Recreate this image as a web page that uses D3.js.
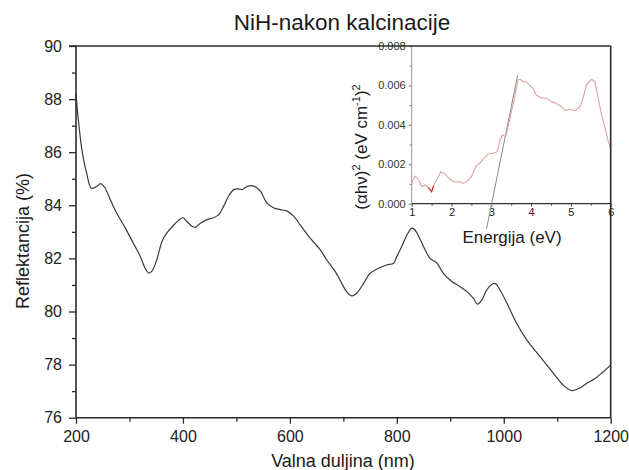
<!DOCTYPE html>
<html>
<head>
<meta charset="utf-8">
<script src="https://cdn.jsdelivr.net/npm/d3@7"></script>
<style>
  html, body { margin: 0; padding: 0; background: #fff; }
  svg { display: block; font-family: "Liberation Sans", Arial, sans-serif; }
</style>
</head>
<body>
<svg id="chart" width="629" height="470"></svg>
<script>
// Reflectance spectrum (main panel)
const wavelength = [200,204,211,220,229,239,246,254,264,276,292,307,320,329,336,342,351,361,370,382,392,400,407,417,423,432,445,457,467,476,486,495,504,511,517,526,536,545,557,570,582,595,607,620,638,657,669,685,697,706,716,725,738,750,766,781,794,800,809,819,828,834,844,853,862,875,887,903,918,931,943,951,959,968,978,984,993,1006,1024,1043,1068,1093,1111,1127,1140,1155,1171,1186,1200];
const reflectance = [88.2,87.3,86.1,85.2,84.64,84.72,84.82,84.66,84.22,83.71,83.15,82.58,82.08,81.64,81.45,81.52,81.95,82.65,82.96,83.24,83.44,83.53,83.4,83.21,83.17,83.31,83.46,83.53,83.65,83.96,84.37,84.59,84.62,84.59,84.68,84.74,84.69,84.53,84.09,83.9,83.84,83.78,83.59,83.24,82.76,82.32,81.94,81.5,81.06,80.75,80.59,80.69,81.06,81.44,81.63,81.75,81.82,82.07,82.44,82.88,83.14,83.07,82.7,82.32,82.0,81.82,81.44,81.13,80.94,80.75,80.5,80.28,80.43,80.81,81.03,81.06,80.81,80.31,79.56,78.93,78.3,77.67,77.23,77.02,77.1,77.29,77.48,77.73,77.98];

// Tauc plot (inset)
const energy = [1.0,1.08,1.17,1.25,1.33,1.42,1.5,1.55,1.65,1.73,1.84,1.96,2.09,2.21,2.3,2.38,2.5,2.61,2.71,2.84,2.92,3.05,3.15,3.21,3.28,3.36,3.46,3.59,3.67,3.73,3.8,3.88,3.96,4.05,4.13,4.26,4.38,4.51,4.63,4.76,4.85,4.97,5.1,5.22,5.29,5.39,5.52,5.6,5.68,5.77,5.85,5.93,6.0];
const tauc = [0.00103,0.0014,0.00124,0.00086,0.00095,0.00081,0.00061,0.00091,0.00129,0.00162,0.0015,0.00124,0.00109,0.00112,0.00103,0.00112,0.00137,0.00188,0.00205,0.00238,0.00252,0.00256,0.00264,0.00315,0.00349,0.0034,0.00425,0.00543,0.00628,0.00631,0.00619,0.00619,0.00602,0.00585,0.00551,0.00535,0.00535,0.00518,0.00509,0.00492,0.00472,0.00479,0.00472,0.00489,0.00526,0.00602,0.00631,0.00619,0.00543,0.0045,0.0039,0.00323,0.00281];
// Linear extrapolation of the absorption edge
const tangentEnergy = [2.88, 3.66];
const tangentValue = [-0.00128, 0.0065];

// Tick values
const xTicks = [200,400,600,800,1000,1200];
const yTicks = [76,78,80,82,84,86,88,90];
const insetXTicks = [1,2,3,4,5,6];
const insetYTicks = [0,0.002,0.004,0.006,0.008];

const svg = d3.select("#chart");
svg.append("rect").attr("width", 629).attr("height", 470).attr("fill", "#fff");

const x = d3.scaleLinear().domain([200, 1200]).range([76, 610.7]);
const y = d3.scaleLinear().domain([76, 90]).range([417.7, 46]);
const ix = d3.scaleLinear().domain([1, 6]).range([411.7, 610.7]);
const iy = d3.scaleLinear().domain([0, 0.008]).range([203.7, 46]);

const axisColor = "#2a2a2a";
function styleAxis(g, color, width) {
  g.select(".domain").remove();
  g.selectAll(".tick line").attr("stroke", color).attr("stroke-width", width);
  g.selectAll(".tick text").attr("fill", "#222");
}

// ---- main axes: minor ticks
const minorX = d3.range(300, 1200, 200);
const minorY = d3.range(77, 90, 2);
svg.append("g").attr("transform", `translate(0,${y.range()[0]})`)
  .call(d3.axisBottom(x).tickValues(minorX).tickSize(4).tickFormat(""))
  .call(g => styleAxis(g, axisColor, 1.3));
svg.append("g").attr("transform", `translate(${x.range()[0]},0)`)
  .call(d3.axisLeft(y).tickValues(minorY).tickSize(4).tickFormat(""))
  .call(g => styleAxis(g, axisColor, 1.3));

// ---- main axes: major ticks
svg.append("g").attr("transform", `translate(0,${y.range()[0]})`)
  .call(d3.axisBottom(x).tickValues(xTicks).tickSize(6).tickPadding(7).tickFormat(d3.format("d")))
  .call(g => styleAxis(g, axisColor, 1.3))
  .call(g => g.selectAll(".tick text").attr("font-size", 16).attr("font-family", "Liberation Sans, Arial, sans-serif"));
svg.append("g").attr("transform", `translate(${x.range()[0]},0)`)
  .call(d3.axisLeft(y).tickValues(yTicks).tickSize(7).tickPadding(7).tickFormat(d3.format("d")))
  .call(g => styleAxis(g, axisColor, 1.3))
  .call(g => g.selectAll(".tick text").attr("font-size", 16).attr("font-family", "Liberation Sans, Arial, sans-serif"));

// ---- inset axes
svg.append("g").attr("transform", `translate(0,${iy(0)})`)
  .call(d3.axisBottom(ix).tickValues(d3.range(1.5, 6, 1)).tickSize(2).tickFormat(""))
  .call(g => styleAxis(g, "#555", 1));
svg.append("g").attr("transform", `translate(0,${iy(0)})`)
  .call(d3.axisBottom(ix).tickValues(insetXTicks).tickSize(3).tickPadding(2).tickFormat(d3.format("d")))
  .call(g => styleAxis(g, "#555", 1))
  .call(g => g.selectAll(".tick text").attr("font-size", 11).attr("font-family", "Liberation Sans, Arial, sans-serif"));
svg.append("g").attr("transform", `translate(${ix(1)},0)`)
  .call(d3.axisLeft(iy).tickValues([0.001,0.003,0.005,0.007]).tickSize(2).tickFormat(""))
  .call(g => styleAxis(g, "#777", 1));
svg.append("g").attr("transform", `translate(${ix(1)},0)`)
  .call(d3.axisLeft(iy).tickValues(insetYTicks).tickSize(3).tickPadding(3).tickFormat(d3.format(".3f")))
  .call(g => styleAxis(g, "#777", 1))
  .call(g => g.selectAll(".tick text").attr("font-size", 11).attr("font-family", "Liberation Sans, Arial, sans-serif").attr("fill", "#333"));

// inset axis lines
svg.append("line").attr("x1", ix(1)).attr("x2", ix(1)).attr("y1", iy(0.008)).attr("y2", iy(0))
  .attr("stroke", "#9a9a9a").attr("stroke-width", 1);
svg.append("line").attr("x1", ix(1)).attr("x2", ix(6)).attr("y1", iy(0)).attr("y2", iy(0))
  .attr("stroke", "#333").attr("stroke-width", 1.2);

// ---- inset curves
const tangent = tangentEnergy.map((e, i) => [e, tangentValue[i]]);
svg.append("path").datum(tangent)
  .attr("d", d3.line().x(d => ix(d[0])).y(d => iy(d[1])))
  .attr("fill", "none").attr("stroke", "#8a8a8a").attr("stroke-width", 1);

const taucPts = energy.map((e, i) => [e, tauc[i]]);
const iline = d3.line().x(d => ix(d[0])).y(d => iy(d[1]));
svg.append("path").datum(taucPts).attr("d", iline)
  .attr("fill", "none").attr("stroke", "#d9a4a4").attr("stroke-width", 1.1);
svg.append("path").datum(taucPts.filter(d => d[0] >= 1.42 && d[0] <= 1.55)).attr("d", iline)
  .attr("fill", "none").attr("stroke", "#cc3b3b").attr("stroke-width", 1.2);

// ---- main curve
const pts = wavelength.map((w, i) => [w, reflectance[i]]);
svg.append("path").datum(pts)
  .attr("d", d3.line().x(d => x(d[0])).y(d => y(d[1])).curve(d3.curveCatmullRom.alpha(0.5)))
  .attr("fill", "none").attr("stroke", "#3a3a3a").attr("stroke-width", 1.2);

// ---- frame (drawn last so the top edge crosses the 0.008 label)
svg.append("line").attr("x1", x.range()[0]).attr("x2", x.range()[0]).attr("y1", y.range()[1]).attr("y2", y.range()[0])
  .attr("stroke", axisColor).attr("stroke-width", 1.6);
svg.append("line").attr("x1", x.range()[0]).attr("x2", x.range()[1]).attr("y1", y.range()[0]).attr("y2", y.range()[0])
  .attr("stroke", axisColor).attr("stroke-width", 1.6);
svg.append("line").attr("x1", x.range()[0] - 7).attr("x2", x.range()[1]).attr("y1", y.range()[1]).attr("y2", y.range()[1])
  .attr("stroke", axisColor).attr("stroke-width", 1.4);
svg.append("line").attr("x1", x.range()[1]).attr("x2", x.range()[1]).attr("y1", y.range()[1]).attr("y2", y.range()[0])
  .attr("stroke", axisColor).attr("stroke-width", 1.6);

// ---- titles
svg.append("text").attr("x", 342).attr("y", 30).attr("text-anchor", "middle")
  .attr("font-size", 22.5).attr("fill", "#1a1a1a").text("NiH-nakon kalcinacije");
svg.append("text").attr("x", 343).attr("y", 467).attr("text-anchor", "middle")
  .attr("font-size", 18).attr("fill", "#1a1a1a").text("Valna duljina (nm)");
svg.append("text").attr("transform", "translate(29,241) rotate(-90)").attr("text-anchor", "middle")
  .attr("font-size", 18).attr("fill", "#1a1a1a").text("Reflektancija (%)");
svg.append("text").attr("x", 512).attr("y", 243).attr("text-anchor", "middle")
  .attr("font-size", 17).attr("fill", "#1a1a1a").text("Energija (eV)");

// inset y label with superscripts
const yl = svg.append("text").attr("transform", "translate(366.5,147) rotate(-90)")
  .attr("text-anchor", "middle").attr("font-size", 17).attr("fill", "#1a1a1a");
yl.append("tspan").text("(\u03b1h\u03bd)");
yl.append("tspan").attr("dy", -7).attr("font-size", 11).text("2");
yl.append("tspan").attr("dy", 7).text(" (eV cm");
yl.append("tspan").attr("dy", -7).attr("font-size", 11).text("-1");
yl.append("tspan").attr("dy", 7).text(")");
yl.append("tspan").attr("dy", -7).attr("font-size", 11).text("2");
</script>
</body>
</html>
